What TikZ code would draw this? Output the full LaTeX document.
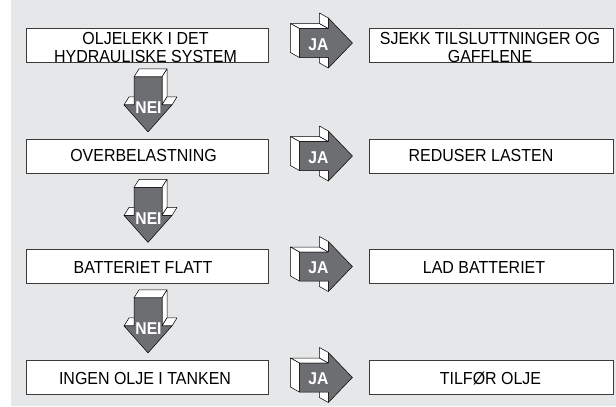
\documentclass[tikz,border=0pt]{standalone}
\usepackage{fontspec}
\setmainfont{Liberation Sans}
\usetikzlibrary{calc}
\definecolor{bg}{HTML}{E6E7E8}
\definecolor{arrowgray}{HTML}{6D6E71}
\definecolor{boxline}{HTML}{3A3A3A}
\newcommand{\tallt}[1]{\scalebox{0.98}[1.07]{#1}}
\tikzset{
  box/.style={draw=boxline, line width=0.8pt, fill=white, inner sep=0pt, minimum height=34pt},
  leftbox/.style={box, minimum width=242pt},
  rightbox/.style={box, minimum width=244pt},
  lbl/.style={font=\fontsize{16.3}{18}\selectfont, text=black, inner sep=0pt, anchor=base},
  face/.style={fill=white, draw=black, line width=0.5pt, line join=round},
  frontface/.style={fill=arrowgray, draw=black, line width=0.5pt, line join=round},
  arrlbl/.style={font=\fontsize{16}{16}\selectfont\bfseries, text=white, inner sep=0pt},
  pics/neiarrow/.style={code={
    \draw[face] (-14,14)--(14,14)--(19,6)--(-9,6)--cycle;
    \draw[face] (14,14)--(14,42)--(19,34)--(19,6)--cycle;
    \draw[face] (-24,42)--(-14,42)--(-9,34)--(-19,34)--cycle;
    \draw[face] (14,42)--(24,42)--(29,34)--(19,34)--cycle;
    \draw[frontface] (-14,14)--(14,14)--(14,42)--(24,42)--(0,69)--(-24,42)--(-14,42)--cycle;
    \node[arrlbl] (-txt) at (0.5,45) {\tallt{NEI}};
  }},
  pics/jaarrow/.style={code={
    \draw[face] (0,-14.5)--(29,-14.5)--(20,-19.5)--(-9,-19.5)--cycle;
    \draw[face] (0,-14.5)--(0,14.5)--(-9,9.5)--(-9,-19.5)--cycle;
    \draw[face] (29,-14.5)--(29,-25)--(20,-30)--(20,-19.5)--cycle;
    \draw[face] (29,14.5)--(29,25)--(20,20)--(20,9.5)--cycle;
    \draw[frontface] (0,-14.5)--(29,-14.5)--(29,-25)--(53,0)--(29,25)--(29,14.5)--(0,14.5)--cycle;
    \node[arrlbl] (-txt) at (19,1.5) {\tallt{JA}};
  }},
}
\begin{document}
\begin{tikzpicture}[x=1pt,y=-1pt]
  \useasboundingbox (0,0) rectangle (616,407);
  \fill[white] (0,0) rectangle (616,407);
  \fill[bg] (11,0) rectangle (616,406);

  % left boxes
  \node[leftbox] (l1) at (147.5,45.5) {};
  \node[leftbox] (l2) at (147.5,156) {};
  \node[leftbox] (l3) at (147.5,266.5) {};
  \node[leftbox] (l4) at (147.5,377.5) {};
  % right boxes
  \node[rightbox] (r1) at (491,45.5) {};
  \node[rightbox] (r2) at (491,156) {};
  \node[rightbox] (r3) at (491,266.5) {};
  \node[rightbox] (r4) at (491,377.5) {};

  % texts
  \node[lbl] (t1a) at (145.5,44) {\tallt{OLJELEKK I DET}};
  \node[lbl] (t1b) at (145.5,62) {\tallt{HYDRAULISKE SYSTEM}};
  \node[lbl] (s1a) at (490,44) {\tallt{SJEKK TILSLUTTNINGER OG}};
  \node[lbl] (s1b) at (490,62) {\tallt{GAFFLENE}};
  \node[lbl] (t2) at (143.5,161.5) {\tallt{OVERBELASTNING}};
  \node[lbl] (s2) at (481,161.5) {\tallt{REDUSER LASTEN}};
  \node[lbl] (t3) at (143,273) {\tallt{BATTERIET FLATT}};
  \node[lbl] (s3) at (484,273) {\tallt{LAD BATTERIET}};
  \node[lbl] (t4) at (145,384) {\tallt{INGEN OLJE I TANKEN}};
  \node[lbl] (s4) at (490.5,384) {\tallt{TILFØR OLJE}};

  % NEI arrows
  \pic (n1) at ($(l1.south)+(0.5,0)$) {neiarrow};
  \pic (n2) at ($(l2.south)+(0.5,0)$) {neiarrow};
  \pic (n3) at ($(l3.south)+(0.5,0)$) {neiarrow};

  % JA arrows
  \pic (j1) at ($(l1.east)+(30.5,-2.5)$) {jaarrow};
  \pic (j2) at ($(l2.east)+(30.5,0)$) {jaarrow};
  \pic (j3) at ($(l3.east)+(30.5,0)$) {jaarrow};
  \pic (j4) at ($(l4.east)+(30.5,0)$) {jaarrow};
\end{tikzpicture}
\end{document}
